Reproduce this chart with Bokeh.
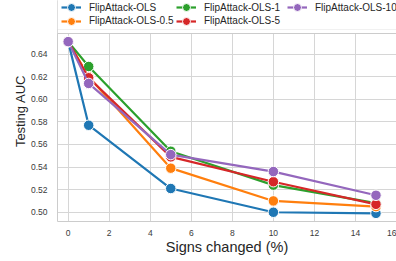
from bokeh.plotting import figure
from bokeh.models import (Legend, LegendItem, Range1d, FixedTicker, CustomJSTickFormatter,
                          BoxAnnotation, Span)
from bokeh.embed import file_html
from bokeh.resources import INLINE

x_vals = [0, 1, 5, 10, 15]
series_names = ["FlipAttack-OLS", "FlipAttack-OLS-0.5", "FlipAttack-OLS-1",
                "FlipAttack-OLS-5", "FlipAttack-OLS-10"]
ols = [0.651, 0.577, 0.521, 0.500, 0.499]
ols_05 = [0.651, 0.620, 0.539, 0.510, 0.505]
ols_1 = [0.651, 0.629, 0.554, 0.524, 0.508]
ols_5 = [0.651, 0.619, 0.549, 0.527, 0.507]
ols_10 = [0.651, 0.614, 0.551, 0.536, 0.515]
x_ticks = [0, 2, 4, 6, 8, 10, 12, 14, 16]
y_ticks = [0.50, 0.52, 0.54, 0.56, 0.58, 0.60, 0.62, 0.64]
x_title = "Signs changed (%)"
y_title = "Testing AUC"

colors = ["#1f77b4", "#ff7f0e", "#2ca02c", "#d62728", "#9467bd"]
all_series = [ols, ols_05, ols_1, ols_5, ols_10]

FONT = "Liberation Sans"
Y_BOTTOM = 0.4918
Y_AXES_TOP = 0.6582     # top spine of the axes box
Y_LEGEND_BOTTOM = 0.6617
Y_CANVAS_TOP = 0.6874   # room above the axes for the legend

p = figure(width=396, height=261, output_backend="svg", toolbar_location=None,
           x_range=Range1d(-0.52, 16.0), y_range=Range1d(Y_BOTTOM, Y_CANVAS_TOP),
           min_border_left=57, min_border_right=0, min_border_top=0,
           min_border_bottom=40)
p.background_fill_color = "white"
p.border_fill_color = "white"
p.outline_line_color = None

for ax in (p.xaxis, p.yaxis):
    ax.axis_line_color = "#cccccc"
    ax.axis_line_width = 1
    ax.major_tick_line_color = None
    ax.minor_tick_line_color = None
    ax.major_tick_out = 0
    ax.major_tick_in = 0
    ax.major_label_text_font = FONT
    ax.major_label_text_font_size = "8.5px"
    ax.major_label_text_color = "#3a3a3a"
    ax.axis_label_text_font = FONT
    ax.axis_label_text_font_style = "normal"
    ax.axis_label_text_color = "#262626"

p.xaxis.ticker = FixedTicker(ticks=x_ticks)
p.yaxis.ticker = FixedTicker(ticks=y_ticks)
p.yaxis.formatter = CustomJSTickFormatter(code="return tick.toFixed(2);")
p.xaxis.axis_label = x_title
p.yaxis.axis_label = y_title
p.xaxis.axis_label_text_font_size = "14.5px"
p.yaxis.axis_label_text_font_size = "13px"
p.xaxis.major_label_standoff = 8
p.yaxis.major_label_standoff = 10
p.xaxis.axis_label_standoff = 0
p.yaxis.axis_label_standoff = 0

p.xgrid.grid_line_color = "#d6d6d6"
p.ygrid.grid_line_color = "#d6d6d6"
p.xgrid.grid_line_width = 1
p.ygrid.grid_line_width = 1

items = []
for name, ys, c in zip(series_names, all_series, colors):
    r1 = p.line(x_vals, ys, line_color=c, line_width=2.2)
    r2 = p.scatter(x_vals, ys, size=10.5, fill_color=c, line_color="white", line_width=1)
    items.append(LegendItem(label=name, renderers=[r1, r2]))

# blank out the band above the axes box, then draw the top spine
p.add_layout(BoxAnnotation(bottom=Y_AXES_TOP, fill_color="white", fill_alpha=1,
                           line_color=None))
p.add_layout(Span(location=Y_AXES_TOP, dimension="width", line_color="#cccccc",
                  line_width=1))
# legend frame (top and right edges fall outside the picture, as in the original)
p.add_layout(BoxAnnotation(bottom=Y_LEGEND_BOTTOM, top=0.75, right=20,
                           fill_color="white", fill_alpha=1,
                           line_color="#cccccc", line_width=1))

# legend entries laid out column-major in 3 columns x 2 rows
col_x = [4, 119, 230]
row_vy = [203.7, 190.3]
for i, item in enumerate(items):
    col, row = divmod(i, 2)
    lg = Legend(items=[item], location=(col_x[col], row_vy[row]), orientation="vertical",
                label_text_font=FONT, label_text_font_size="10px",
                label_text_color="#262626",
                glyph_width=20, glyph_height=20, label_height=11,
                label_standoff=8, spacing=0, padding=0, margin=0,
                border_line_color=None, background_fill_alpha=0)
    p.add_layout(lg, "center")

open("out.html", "w").write(file_html(p, INLINE))
